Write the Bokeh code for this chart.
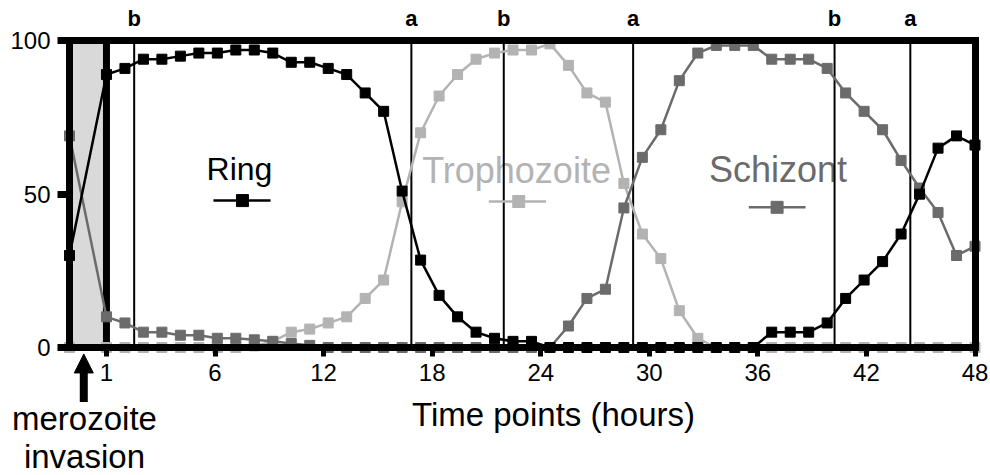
from bokeh.plotting import figure
from bokeh.models import (Range1d, FixedTicker, LinearAxis, Label, Arrow,
                          NormalHead, BoxAnnotation)
from bokeh.embed import file_html
from bokeh.resources import INLINE

# ---------------- data ----------------
# time points (hours); -1 = merozoite invasion point
hours = [-1] + list(range(1, 49))

ring = [30,
        89, 91, 94, 94, 95, 96, 96, 97, 97, 96, 93, 93, 91, 89, 83, 77, 51,
        28.5, 17, 10, 5, 3, 2, 2,
        0, 0, 0, 0, 0, 0, 0, 0, 0, 0, 0, 0,
        5, 5, 5, 8, 16, 22, 28, 37, 50, 65, 69, 66]

trophozoite = [0,
               0, 0, 0, 0, 0, 0, 0, 0,
               0.5, 2, 5, 6, 8, 10, 16, 22, 47.5, 70, 82, 89, 94, 96, 97, 97,
               99, 92, 83, 80, 53.5, 37, 29, 12, 3,
               0, 0, 0, 0, 0, 0, 0, 0, 0, 0, 0, 0, 0, 0, 0]

schizont = [69,
            10, 8, 5, 5, 4, 4, 3, 3, 2.5, 2, 1.3, 0.7,
            0, 0, 0, 0, 0, 0, 0, 0, 0, 0, 0, 0, 0,
            7, 16, 19, 45.5, 62, 71, 87, 96, 98.5, 98.5, 98.5, 94, 94, 94,
            91, 83, 77, 71, 61, 52, 44, 30, 33]

# printed hour ticks and their labels
axis_hours = [0, 6, 12, 18, 24, 30, 36, 42, 48]
x_tick_labels = ["1", "6", "12", "18", "24", "30", "36", "42", "48"]
y_ticks = [0, 50, 100]

# stage boundary markers
mark_hours = [2.5, 17.5, 22.5, 29.5, 40.4, 44.5]
mark_labels = ["b", "a", "b", "a", "b", "a"]

series_names = ["Ring", "Trophozoite", "Schizont"]

# ---------------- styling / layout ----------------
FONT = "Liberation Sans"
C_RING = "#000000"
C_TROPH = "#b3b3b3"
C_SCHIZ = "#6b6b6b"

W, H = 990, 475
X0, X1 = -1, 48          # data extent of the boxed area
Y0, Y1 = 0, 100
FL, FR, FT, FB = 69.0, 974.5, 40.3, 347.0   # pixel edges of the boxed area
kx = (FR - FL) / (X1 - X0)
ky = (FB - FT) / (Y1 - Y0)

p = figure(width=W, height=H, output_backend="svg", toolbar_location=None,
           x_range=Range1d(X0 - FL / kx, X0 + (W - FL) / kx),
           y_range=Range1d(Y0 - (H - FB) / ky, Y1 + FT / ky),
           x_axis_type=None, y_axis_type=None,
           min_border=0, title=None)
p.outline_line_color = None
p.background_fill_color = "white"
p.border_fill_color = "white"

# time-point positions of the printed hour ticks (axis "1" at first time point)
tick_pos = [1 + v * 47 / 48 for v in axis_hours]

bottom = LinearAxis(ticker=FixedTicker(ticks=tick_pos), fixed_location=Y0, bounds=(X0, X1),
                    major_label_overrides={tp: lab for tp, lab in zip(tick_pos, x_tick_labels)})
bottom.axis_line_width = 7
bottom.axis_line_cap = "square"
bottom.major_tick_in = 0
bottom.major_tick_out = 9
bottom.major_tick_line_width = 5
bottom.minor_tick_line_color = None
bottom.major_label_text_font = FONT
bottom.major_label_text_font_size = "24px"
bottom.major_label_text_color = "black"
bottom.major_label_standoff = 7
p.add_layout(bottom, "below")

left = LinearAxis(ticker=FixedTicker(ticks=y_ticks), fixed_location=X0, bounds=(Y0, Y1))
left.axis_line_width = 7
left.axis_line_cap = "square"
left.major_tick_in = 0
left.major_tick_out = 12
left.major_tick_line_width = 7
left.minor_tick_line_color = None
left.major_label_text_font = FONT
left.major_label_text_font_size = "24px"
left.major_label_text_color = "black"
left.major_label_standoff = 7
p.add_layout(left, "left")

for side, loc, bnds in (("above", Y1, (X0, X1)), ("right", X1, (Y0, Y1))):
    ax = LinearAxis(ticker=FixedTicker(ticks=[]), fixed_location=loc, bounds=bnds)
    ax.axis_line_width = 7
    ax.axis_line_cap = "square"
    ax.major_tick_line_color = None
    ax.minor_tick_line_color = None
    ax.major_label_text_font_size = "0px"
    p.add_layout(ax, side)

# invasion window shading
p.add_layout(BoxAnnotation(left=-1, right=1, bottom=Y0, top=Y1, fill_color="#d9d9d9",
                           fill_alpha=1, line_color=None, level="underlay"))

# legend texts (beneath the vertical lines)
legend_specs = [
    (series_names[0], C_RING, 8.2, 58.3, "32px"),
    (series_names[1], C_TROPH, 23.19, 57.7, "36px"),
    (series_names[2], C_SCHIZ, 37.34, 58.0, "36px"),
]
for name, col, lx, ly, fs in legend_specs:
    p.add_layout(Label(x=lx, y=ly, text=name, text_font=FONT, text_font_size=fs,
                       text_color=col, text_align="center", text_baseline="middle",
                       level="underlay"))

# stage marker lines and letters
p.segment(x0=mark_hours, y0=[Y0] * len(mark_hours), x1=mark_hours, y1=[Y1] * len(mark_hours),
          line_color="black", line_width=2)
for h, lab in zip(mark_hours, mark_labels):
    p.add_layout(Label(x=h, y=107.2, text=lab, text_font=FONT, text_font_size="22px",
                       text_font_style="bold", text_color="black",
                       text_align="center", text_baseline="middle"))

# thick boundary of invasion window
p.segment(x0=[1], y0=[Y0], x1=[1], y1=[Y1], line_color="black", line_width=7)

# data series
for ys, col in [(trophozoite, C_TROPH), (schizont, C_SCHIZ), (ring, C_RING)]:
    p.line(hours, ys, line_color=col, line_width=2.5)
    p.scatter(hours, ys, marker="square", size=10, fill_color=col, line_color=col)

# legend samples
sample_specs = [
    (C_RING, 6.79, 9.88, 8.36, 47.9),
    (C_TROPH, 21.69, 24.79, 23.31, 47.6),
    (C_SCHIZ, 35.76, 38.83, 37.29, 45.7),
]
for col, x0, x1, xm, ym in sample_specs:
    p.line([x0, x1], [ym, ym], line_color=col, line_width=2.5)
    p.scatter([xm], [ym], marker="square", size=12, fill_color=col, line_color=col)

# axis title and invasion annotation
p.add_layout(Label(x=25.19, y=-22.0, text="Time points (hours)", text_font=FONT,
                   text_font_size="33px", text_color="black", text_align="center",
                   text_baseline="middle"))
p.add_layout(Label(x=-0.19, y=-23.1, text="merozoite", text_font=FONT,
                   text_font_size="33px", text_color="black", text_align="center",
                   text_baseline="middle"))
p.add_layout(Label(x=-0.19, y=-35.7, text="invasion", text_font=FONT,
                   text_font_size="33px", text_color="black", text_align="center",
                   text_baseline="middle"))
p.add_layout(Arrow(end=NormalHead(size=19, fill_color="black", line_color="black"),
                   x_start=-0.227, y_start=-17.8, x_end=-0.227, y_end=-2.1,
                   line_width=8, line_color="black"))

open("out.html", "w").write(file_html(p, INLINE))
